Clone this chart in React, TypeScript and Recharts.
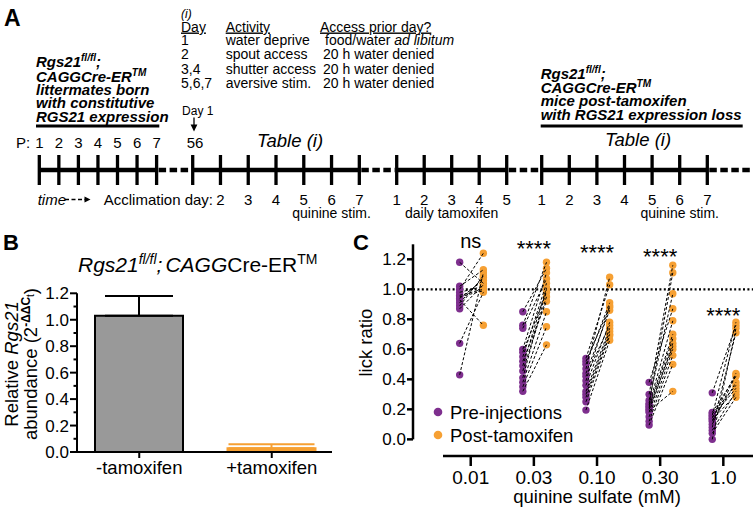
import React from 'react';
import {
  BarChart,
  Bar,
  Cell,
  ErrorBar,
  XAxis,
  YAxis,
  ScatterChart,
  Scatter,
  ReferenceLine,
  ReferenceDot,
  Legend,
} from 'recharts';

const FONT = '"Liberation Sans", Arial, Helvetica, sans-serif';
const PURPLE = '#7e2f8e';
const ORANGE = '#f6a033';
const GREY = '#999999';

// ---- panel A (timeline) ----
const tableDays = ['1', '2', '3,4', '5,6,7'];
const tableActivity = ['water deprive', 'spout access', 'shutter access', 'aversive stim.'];
const tableAccess = ['food/water ', '20 h water denied', '20 h water denied', '20 h water denied'];
const tableAccessItalic = ['ad libitum', '', '', ''];
const birthDays = ['1', '2', '3', '4', '5', '6', '7'];
const acclimationDays = ['', '2', '3', '4', '5', '6', '7'];
const tamoxifenDays = ['1', '2', '3', '4', '5'];
const postDays = ['1', '2', '3', '4', '5', '6', '7'];

// ---- panel B ----
const bCategories = ['-tamoxifen', '+tamoxifen'];
const bMeans = [1.03, 0.028];
const bErrors = [0.15, 0.03];
const bTicks = [0, 0.1, 0.2, 0.3, 0.4, 0.5, 0.6, 0.7, 0.8, 0.9, 1.0, 1.1, 1.2];

// ---- panel C ----
const concentrations = ['0.01', '0.03', '0.10', '0.30', '1.0'];
const sigLabels = ['ns', '****', '****', '****', '****'];
const sigHeights = [1.324, 1.275, 1.25, 1.22, 0.83];
const cTicks = [0, 0.2, 0.4, 0.6, 0.8, 1.0, 1.2];

const pre001 = [1.18, 1.02, 1.0, 0.98, 0.96, 0.95, 0.94, 0.93, 0.91, 0.89, 0.87, 0.64, 0.43];
const post001 = [1.04, 1.13, 1.24, 1.02, 1.0, 0.99, 1.06, 0.76, 1.08, 1.09, 1.03, 0.98, 1.11];
const pre003 = [0.85, 0.76, 0.74, 0.6, 0.58, 0.55, 0.52, 0.49, 0.455, 0.41, 0.38, 0.35, 0.32];
const post003 = [1.14, 1.18, 1.07, 1.11, 0.98, 1.04, 0.92, 1.01, 0.95, 1.0, 0.85, 0.75, 0.63];
const pre010 = [0.54, 0.52, 0.5, 0.47, 0.44, 0.42, 0.39, 0.36, 0.32, 0.3, 0.28, 0.25, 0.195];
const post010 = [1.03, 0.88, 0.91, 1.08, 0.86, 0.76, 0.89, 0.78, 0.74, 0.72, 0.7, 0.69, 0.66];
const pre030 = [0.38, 0.3, 0.26, 0.24, 0.23, 0.22, 0.21, 0.2, 0.19, 0.18, 0.15, 0.12, 0.095];
const post030 = [0.87, 1.16, 0.97, 1.11, 0.79, 0.7, 0.67, 0.62, 0.32, 0.64, 0.6, 0.56, 0.5];
const pre100 = [0.31, 0.18, 0.17, 0.16, 0.15, 0.14, 0.13, 0.12, 0.1, 0.08, 0.06, 0.04, 0.0];
const post100 = [0.76, 0.42, 0.36, 0.78, 0.34, 0.44, 0.3, 0.38, 0.43, 0.71, 0.32, 0.28, 0.74];

const preGroups = [pre001, pre003, pre010, pre030, pre100];
const postGroups = [post001, post003, post010, post030, post100];

// layout of C x-axis (category index units)
const PRE_OFF = -0.175;
const POST_OFF = 0.2;
const X_MIN = 0.086;
const X_MAX = 5.47;
const Y_MIN = -0.111;

const preData = preGroups.flatMap((g, i) => g.map((y) => ({ x: i + 1 + PRE_OFF, y })));
const postData = postGroups.flatMap((g, i) => g.map((y) => ({ x: i + 1 + POST_OFF, y })));
const pairs = preGroups.flatMap((g, i) =>
  g.map((y, j) => [
    { x: i + 1 + PRE_OFF, y },
    { x: i + 1 + POST_OFF, y: postGroups[i][j] },
  ])
);

const bData = bCategories.map((name, i) => ({
  name,
  value: bMeans[i],
  errMinus: i === 0 ? [0, bErrors[i]] : undefined,
  errPlus: i === 1 ? [0, bErrors[i]] : undefined,
}));

// timeline geometry
const segStarts = [39.3, 192.7, 396.7, 541.7];
const segSteps = [19.55, 27.77, 27.5, 27.6];
const segCounts = [7, 7, 5, 7];
const LINE_Y = 170;

function BTick({ x, y, payload }: any) {
  const v = payload.value;
  const major = Math.round(v * 10) % 2 === 0;
  return (
    <g>
      <line x1={x - (major ? 7 : 3.5)} x2={x} y1={y} y2={y} stroke="#000" strokeWidth={2} />
      {major && (
        <text x={x - 8} y={y} dy="0.36em" textAnchor="end" fontSize={17} fill="#000">
          {v.toFixed(1)}
        </text>
      )}
    </g>
  );
}

function CLegend() {
  return (
    <svg width={200} height={50} style={{ overflow: 'visible' }}>
      <circle cx={8} cy={12} r={4.3} fill={PURPLE} />
      <text x={20} y={12} dy="0.36em" fontSize={18.5} fill="#000">Pre-injections</text>
      <circle cx={8} cy={35} r={4.3} fill={ORANGE} />
      <text x={20} y={35} dy="0.36em" fontSize={18.5} fill="#000">Post-tamoxifen</text>
    </svg>
  );
}

function PanelA() {
  const segXs = segStarts.map((s, si) =>
    Array.from({ length: segCounts[si] }, (_, i) => s + i * segSteps[si])
  );
  const ends = segXs.map((xs) => xs[xs.length - 1]);
  const gaps = [
    [ends[0], segStarts[1]],
    [ends[1], segStarts[2]],
    [ends[2], segStarts[3]],
    [ends[3], 753],
  ];
  const rowY = [44.5, 59, 73.6, 88.2];
  return (
    <g fill="#000">
      <text x={4} y={26} fontSize={23} fontWeight="bold">A</text>

      {/* table (i) */}
      <text x={181} y={18} fontSize={12} fontStyle="italic">(i)</text>
      <text x={181} y={31.5} fontSize={14} textDecoration="underline">Day</text>
      <text x={225.7} y={31.5} fontSize={14} textDecoration="underline">Activity</text>
      <text x={320} y={31.5} fontSize={14} textDecoration="underline">Access prior day?</text>
      {tableDays.map((d, i) => (
        <g key={i}>
          <text x={181} y={rowY[i]} fontSize={14}>{d}</text>
          <text x={225.7} y={rowY[i]} fontSize={14}>{tableActivity[i]}</text>
          <text x={i === 0 ? 325 : 323} y={rowY[i]} fontSize={14}>
            {tableAccess[i]}
            <tspan fontStyle="italic">{tableAccessItalic[i]}</tspan>
          </text>
        </g>
      ))}

      {/* left genotype block */}
      <g fontSize={15} fontWeight="bold" fontStyle="italic">
        <text x={36} y={66.7}>
          Rgs21<tspan fontSize={10} dy={-6}>fl/fl</tspan>
          <tspan dy={6}>;</tspan>
        </text>
        <text x={36} y={81.7}>
          CAGGCre-ER<tspan fontSize={10} dy={-6}>TM</tspan>
        </text>
        <text x={36} y={95}>littermates born</text>
        <text x={36} y={108.3}>with constitutive</text>
        <text x={36} y={121.7}>RGS21 expression</text>
      </g>
      <line x1={36} x2={159.3} y1={126} y2={126} stroke="#000" strokeWidth={3} />

      {/* right genotype block */}
      <g fontSize={15} fontWeight="bold" fontStyle="italic">
        <text x={540.7} y={79}>
          Rgs21<tspan fontSize={10} dy={-6}>fl/fl</tspan>
          <tspan dy={6}>;</tspan>
        </text>
        <text x={540.7} y={92.7}>
          CAGGCre-ER<tspan fontSize={10} dy={-6}>TM</tspan>
        </text>
        <text x={540.7} y={106.3}>mice post-tamoxifen</text>
        <text x={540.7} y={120}>with RGS21 expression loss</text>
      </g>
      <line x1={540.7} x2={742.7} y1={126} y2={126} stroke="#000" strokeWidth={3} />

      {/* Day 1 arrow */}
      <text x={197.8} y={115} fontSize={12} textAnchor="middle">Day 1</text>
      <line x1={194} x2={194} y1={117.5} y2={126} stroke="#000" strokeWidth={1.3} />
      <polygon points="190.6,124.5 197.4,124.5 194,131.5" fill="#000" />

      {/* top labels */}
      <text x={16} y={148.3} fontSize={15}>P:</text>
      {birthDays.map((d, i) => (
        <text key={i} x={segXs[0][i]} y={148.3} fontSize={15} textAnchor="middle">{d}</text>
      ))}
      <text x={195} y={148.3} fontSize={15} textAnchor="middle">56</text>
      <text x={290} y={147} fontSize={18.5} fontStyle="italic" textAnchor="middle">Table (i)</text>
      <text x={638} y={146} fontSize={18.5} fontStyle="italic" textAnchor="middle">Table (i)</text>

      {/* timeline */}
      {segXs.map((xs, si) => (
        <g key={si}>
          <line x1={xs[0]} x2={xs[xs.length - 1]} y1={LINE_Y} y2={LINE_Y} stroke="#000" strokeWidth={4.5} />
          {xs.map((x, i) => (
            <line key={i} x1={x} x2={x} y1={155} y2={185} stroke="#000" strokeWidth={3.3} />
          ))}
        </g>
      ))}
      {gaps.map(([a, b], i) => (
        <line key={i} x1={a + 2} x2={b - 2} y1={LINE_Y} y2={LINE_Y} stroke="#000" strokeWidth={4.5} strokeDasharray="7.5 3.5" />
      ))}

      {/* bottom labels */}
      <text x={37.7} y={205} fontSize={15} fontStyle="italic">time</text>
      <line x1={65} x2={85} y1={199.5} y2={199.5} stroke="#000" strokeWidth={1.3} strokeDasharray="4 2.5" />
      <polygon points="84.5,196.5 84.5,202.5 90.5,199.5" fill="#000" />
      <text x={213} y={205} fontSize={15} textAnchor="end">Acclimation day:</text>
      {acclimationDays.map((d, i) => (
        <text key={'a' + i} x={segXs[1][i]} y={205} fontSize={15} textAnchor="middle">{d}</text>
      ))}
      {tamoxifenDays.map((d, i) => (
        <text key={'t' + i} x={segXs[2][i]} y={205} fontSize={15} textAnchor="middle">{d}</text>
      ))}
      {postDays.map((d, i) => (
        <text key={'p' + i} x={segXs[3][i]} y={205} fontSize={15} textAnchor="middle">{d}</text>
      ))}
      <text x={segXs[1][5]} y={217.5} fontSize={14} textAnchor="middle">quinine stim.</text>
      <text x={segXs[2][2]} y={217.5} fontSize={14} textAnchor="middle">daily tamoxifen</text>
      <text x={segXs[3][5]} y={217.5} fontSize={14} textAnchor="middle">quinine stim.</text>
    </g>
  );
}

function Overlay() {
  return (
    <svg
      width={753}
      height={508}
      style={{ position: 'absolute', left: 0, top: 0, pointerEvents: 'none' }}
    >
      <PanelA />
      <text x={3} y={249.5} fontSize={22} fontWeight="bold" fill="#000">B</text>
      <text x={353} y={250} fontSize={22} fontWeight="bold" fill="#000">C</text>

      {/* panel B title */}
      <text x={78} y={271.7} fontSize={21} fill="#000">
        <tspan fontStyle="italic">Rgs21</tspan>
        <tspan fontStyle="italic" fontSize={14} dy={-8}>fl/fl</tspan>
        <tspan fontStyle="italic" dy={8}>;</tspan>
        <tspan fontStyle="italic" dx={3}>CAGG</tspan>
        <tspan>Cre-ER</tspan>
        <tspan fontSize={14} dy={-8}>TM</tspan>
      </text>

      {/* panel B y label */}
      <text transform="translate(17.5,364) rotate(-90)" textAnchor="middle" fontSize={18.5} fill="#000">
        Relative <tspan fontStyle="italic">Rgs21</tspan>
      </text>
      <text transform="translate(36.5,364) rotate(-90)" textAnchor="middle" fontSize={18.5} fill="#000">
        abundance (2
        <tspan fontSize={12} fontWeight="bold" dy={-7}>-ΔΔC</tspan>
        <tspan fontSize={10} dy={4}>t</tspan>
        <tspan dy={3}>)</tspan>
      </text>
    </svg>
  );
}

export default function App() {
  return (
    <div
      style={{
        position: 'absolute',
        left: 0,
        top: 0,
        width: 753,
        height: 508,
        background: '#fff',
        overflow: 'hidden',
        fontFamily: FONT,
      }}
    >
      {/* panel B */}
      <div style={{ position: 'absolute', left: 0, top: 280 }}>
        <BarChart width={340} height={228} data={bData} margin={{ top: 13.3, right: 8, left: 0, bottom: 0 }}>
          <XAxis
            dataKey="name"
            height={56}
            padding={{ left: -4, right: -6 }}
            axisLine={{ stroke: '#000', strokeWidth: 2 }}
            tickLine={{ stroke: '#000', strokeWidth: 2 }}
            tickSize={6}
            tickMargin={3}
            tick={{ fill: '#000', fontSize: 18.5 }}
          />
          <YAxis
            width={77}
            domain={[0, 1.2]}
            ticks={bTicks}
            interval={0}
            allowDataOverflow
            axisLine={{ stroke: '#000', strokeWidth: 2 }}
            tickLine={false}
            tickSize={0}
            tickMargin={0}
            tick={<BTick />}
          />
          <Bar dataKey="value" barSize={88} strokeWidth={2} isAnimationActive={false}>
            {bData.map((d, i) => (
              <Cell key={d.name} fill={i === 0 ? GREY : ORANGE} stroke={i === 0 ? '#000' : ORANGE} />
            ))}
            <ErrorBar dataKey="errMinus" width={34} stroke="#000" strokeWidth={2} direction="y" />
            <ErrorBar dataKey="errPlus" width={43} stroke={ORANGE} strokeWidth={2} direction="y" />
          </Bar>
        </BarChart>
      </div>

      {/* panel C */}
      <div style={{ position: 'absolute', left: 340, top: 220 }}>
        <ScatterChart width={413} height={288} margin={{ top: 9.3, right: 0, left: 0, bottom: 0 }}>
          <XAxis
            type="number"
            dataKey="x"
            domain={[X_MIN, X_MAX]}
            allowDataOverflow
            ticks={[1, 2, 3, 4, 5]}
            tickFormatter={(v: number) => concentrations[v - 1]}
            height={52}
            axisLine={false}
            tickLine={{ stroke: '#000', strokeWidth: 2.5 }}
            tickSize={10}
            tickMargin={4.7}
            tick={{ fill: '#000', fontSize: 19 }}
            label={{ value: 'quinine sulfate (mM)', position: 'insideBottom', offset: 5, dx: 14, fontSize: 18.5, fill: '#000' }}
          />
          <YAxis
            type="number"
            dataKey="y"
            domain={[Y_MIN, 1.4]}
            allowDataOverflow
            ticks={cTicks}
            interval={0}
            tickFormatter={(v: number) => v.toFixed(1)}
            width={73}
            axisLine={false}
            tickLine={{ stroke: '#000', strokeWidth: 2.5 }}
            tickSize={6}
            tickMargin={1}
            tick={{ fill: '#000', fontSize: 17 }}
            label={{ value: 'lick ratio', angle: -90, position: 'insideLeft', offset: 25, fontSize: 18.5, fill: '#000', style: { textAnchor: 'middle' } }}
          />
          <ReferenceLine y={1} stroke="#000" strokeWidth={2.2} strokeDasharray="2 2.4" />
          <ReferenceLine
            segment={[{ x: X_MIN, y: 0 }, { x: X_MIN, y: 1.3 }]}
            stroke="#000"
            strokeWidth={2.5}
            ifOverflow="visible"
          />
          <ReferenceLine
            segment={[{ x: 0.561, y: Y_MIN }, { x: X_MAX, y: Y_MIN }]}
            stroke="#000"
            strokeWidth={2.5}
            ifOverflow="visible"
          />
          <Scatter
            name="Pre-injections"
            data={preData}
            isAnimationActive={false}
            shape={(p: any) => <circle cx={p.cx} cy={p.cy} r={3.7} fill={PURPLE} />}
          />
          <Scatter
            name="Post-tamoxifen"
            data={postData}
            isAnimationActive={false}
            shape={(p: any) => <circle cx={p.cx} cy={p.cy} r={3.7} fill={ORANGE} />}
          />
          {pairs.map((pair, k) => (
            <Scatter
              key={k}
              data={pair}
              isAnimationActive={false}
              line={{ stroke: '#000', strokeWidth: 1, strokeDasharray: '3 2' }}
              shape={() => <g />}
            />
          ))}
          {sigLabels.map((s, i) => (
            <ReferenceDot
              key={i}
              x={i + 1}
              y={sigHeights[i]}
              r={0}
              fill="none"
              stroke="none"
              ifOverflow="visible"
              label={{ value: s, position: 'center', fontSize: s === 'ns' ? 20 : 22, fill: '#000' }}
            />
          ))}
          <Legend
            layout="vertical"
            align="center"
            verticalAlign="middle"
            wrapperStyle={{ left: 90, top: 180, width: 200, height: 50 }}
            content={() => <CLegend />}
          />
        </ScatterChart>
      </div>

      <Overlay />
    </div>
  );
}
